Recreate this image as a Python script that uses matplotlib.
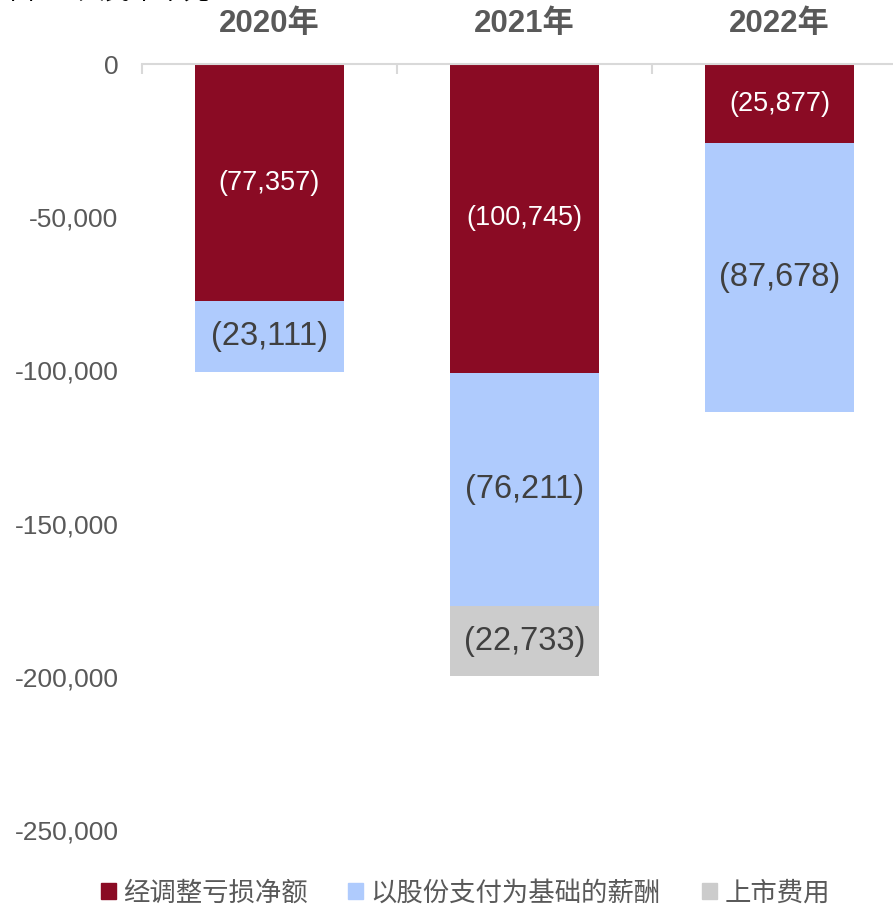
import matplotlib.pyplot as plt
import matplotlib.patches as mpatches
import numpy as np

plt.rcParams['font.family'] = ['Liberation Sans', 'Noto Sans CJK SC', 'DejaVu Sans']

years = ['2020年', '2021年', '2022年']
net_loss = [-77357, -100745, -25877]
sbc = [-23111, -76211, -87678]
listing = [0, -22733, 0]
series_names = ['经调整亏损净额', '以股份支付为基础的薪酬', '上市费用']
colors = ['#8A0B24', '#AFCBFD', '#CCCCCC']
label_colors = ['white', '#404040', '#404040']
label_sizes = [19.5, 23.5, 23.5]

fig = plt.figure(figsize=(8.93, 9.08), dpi=100)
ax = fig.add_axes([142 / 893, 78 / 908, 765 / 893, 766 / 908])

x = np.arange(len(years))
width = 0.585
bottom = np.zeros(len(years))
for vals, c, lc, ls, name in zip([net_loss, sbc, listing], colors, label_colors, label_sizes, series_names):
    vals = np.array(vals, dtype=float)
    ax.bar(x, vals, width, bottom=bottom, color=c, label=name)
    for xi, v, bt in zip(x, vals, bottom):
        if v != 0:
            ax.text(xi, bt + v / 2, '({:,})'.format(int(-v)), ha='center', va='center',
                    color=lc, fontsize=ls)
    bottom = bottom + vals

ax.set_xlim(-0.5, 2.5)
ax.set_ylim(-250000, 0)
ax.set_yticks(np.arange(-250000, 1, 50000))
ax.set_yticklabels(['{:,}'.format(v) for v in range(-250000, 1, 50000)])
ax.tick_params(axis='y', length=0, pad=17, labelsize=19, labelcolor='#595959')

ax.xaxis.tick_top()
ax.set_xticks(x)
ax.set_xticklabels(years, fontsize=22.5, fontweight='bold', color='#595959')
ax.set_xticks([-0.5, 0.5, 1.5, 2.5], minor=True)
ax.tick_params(axis='x', which='major', length=0, pad=18)
ax.tick_params(axis='x', which='minor', direction='in', length=7, color='#D9D9D9', width=1.5, top=True)

for s in ['left', 'right', 'bottom']:
    ax.spines[s].set_visible(False)
ax.spines['top'].set_color('#D9D9D9')
ax.spines['top'].set_linewidth(1.5)

# unit note, mostly cut off by the top edge as in the original
fig.text(0.0, 1 - 4 / 908, '单位：人民币千元', fontsize=19, color='#000000', va='bottom', ha='left')

# legend items placed one by one (uneven gaps in the original)
legend_x = [101, 348, 702]
for name, c, lx in zip(series_names, colors, legend_x):
    h = mpatches.Patch(color=c)
    leg = fig.legend(handles=[h], labels=[name], loc='center left',
                     bbox_to_anchor=(lx / 893, 1 - 893 / 908), frameon=False,
                     fontsize=19, handlelength=0.55, handleheight=0.55,
                     handletextpad=0.3, borderpad=0, borderaxespad=0)
    for t in leg.get_texts():
        t.set_color('#595959')

plt.savefig('out.png', dpi=100)
plt.close()
